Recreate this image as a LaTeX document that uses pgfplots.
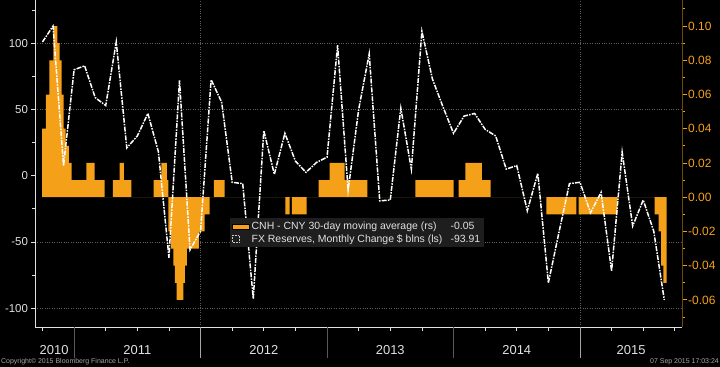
\documentclass[border=0pt]{standalone}
\usepackage{pgfplots}
\pgfplotsset{compat=1.18}
\usepackage{fontspec}
\setmainfont{Liberation Sans}
\definecolor{cnh}{RGB}{245,160,25}
\definecolor{legbg}{RGB}{30,30,30}
\definecolor{gridc}{RGB}{95,95,95}
\definecolor{txt}{RGB}{225,225,225}

\pgfplotsset{
  base/.style={at={(35bp,40bp)}, anchor=south west, scale only axis,
    width=647bp, height=327bp, xmin=8.29, xmax=69.68,
    /pgf/number format/assume math mode=true},
}

\begin{document}
\begin{tikzpicture}
\fill[black] (0,0) rectangle (720bp,367bp);
\path[use as bounding box] (0,0) rectangle (720bp,367bp);

% background grid (left scale)
\begin{axis}[base, ymin=-114.3, ymax=132.7,
  xtick={24,60}, ytick={-100,-50,50,100},
  xticklabels={}, yticklabels={},
  grid=major, grid style={gridc, dotted, line width=0.7bp},
  axis line style={draw=none}, major tick length=0pt, minor tick length=0pt]
\end{axis}

% CNH - CNY bars (right scale)
\begin{axis}[base, ymin=-0.0758, ymax=0.1152,
  axis y line*=right, axis x line*=bottom,
  x axis line style={draw=none},
  y axis line style={draw=cnh!45!black, line width=0.7bp},
  ytick={-0.06,-0.04,-0.02,0,0.02,0.04,0.06,0.08,0.10},
  yticklabels={-0.06,-0.04,-0.02,0.00,0.02,0.04,0.06,0.08,0.10},
  minor ytick={-0.07,-0.05,-0.03,-0.01,0.01,0.03,0.05,0.07,0.09,0.11},
  ytick style={cnh, line width=0.9bp},
  tick align=outside, major tick length=5bp, minor tick length=3bp,
  yticklabel style={text=cnh, font=\fontsize{12}{12}\selectfont, inner sep=1bp},
  xtick={10.1,18,30,42,54,64.85},
  xticklabels={2010,2011,2012,2013,2014,2015},
  xtick style={draw=none},
  xticklabel style={text=txt, font=\fontsize{13}{13}\selectfont, anchor=north, yshift=-10bp}]
\addplot[ybar interval, fill=cnh, draw=none] coordinates {
(8.955,0.04) (9.33,0.06) (9.65,0.08) (10.03,0.10) (10.41,0.09) (10.62,0.08)
(10.82,0.06) (11.0,0.04) (11.2,0.03) (11.5,0.02) (11.77,0.01) (13.16,0.02)
(13.95,0.01) (14.90,0) (15.69,0.01) (16.33,0.02) (16.73,0.01) (17.43,0)
(19.55,0.01) (20.27,0.02) (20.81,0.01) (20.94,-0.02) (21.19,-0.03) (21.41,-0.04)
(21.57,-0.05) (21.73,-0.06) (22.36,-0.05) (22.52,-0.04) (22.71,-0.03) (23.85,-0.02)
(24.39,-0.01) (24.87,0) (25.27,0.01) (26.29,0) (32.04,-0.01) (32.46,0)
(32.67,-0.01) (34.07,0) (35.21,0.01) (36.25,0.02) (37.67,0.01) (39.82,0)
(44.37,0.01) (48.02,0) (48.49,0.01) (49.12,0.02) (50.70,0.01) (51.53,0)
(56.80,-0.01) (59.65,0) (59.87,-0.01) (63.54,0) (67.09,-0.01) (67.47,-0.02)
(67.69,-0.04) (67.92,-0.05) (68.22,0)
};
\end{axis}

% FX reserves line (left scale)
\begin{axis}[base, ymin=-114.3, ymax=132.7, clip=false,
  axis y line*=left, axis x line*=bottom,
  axis line style={txt, line width=0.8bp},
  ytick={-100,-50,0,50,100},
  yticklabels={-100,-50,0,50,100},
  minor ytick={-75,-25,25,75,125},
  xtick={9,15,18,21,27,30,33,39,42,45,51,54,57,63,66,69},
  xticklabels={},
  tick align=outside, major tick length=3.5bp, minor tick length=2.5bp,
  tick style={txt, line width=0.7bp},
  yticklabel style={text=txt, font=\fontsize{11.5}{11.5}\selectfont},
  legend style={at={(0.3014,0.3333)}, anchor=north west, fill=legbg, draw=none,
    text=txt, font=\fontsize{10.5}{12}\selectfont, inner sep=2bp, row sep=-1bp,
    cells={anchor=west}},
  legend cell align=left]
\addlegendimage{area legend, fill=cnh, draw=none}
\addlegendentry{\makebox[199bp][l]{CNH - CNY 30-day moving average (rs)}-0.05\hspace{5bp}}
\addplot[white, line width=1.5bp, dash pattern=on 5bp off 1.2bp on 1.5bp off 1.2bp,
  legend image code/.code={\draw[white!80!black, densely dotted, line width=0.5bp] (0bp,-3bp) rectangle (6.5bp,3.5bp);}]
coordinates {
(9,101) (10,113) (11,7.6) (12,80) (13,83) (14,59) (15,53) (16,101) (17,21) (18,30)
(19,47) (20,18) (21,-62) (22,72) (23,-56) (24,-42) (25,72.5) (26,55.5) (27,-5) (28,-6)
(29,-93) (30,34) (31,1) (32,32) (33,11) (34,2.5) (35,10) (36,14) (37,98.5) (38,-11)
(39,50) (40,92) (41,-19) (42,-18.4) (43,51) (44,5) (45,109) (46,73) (47,52) (48,32)
(49,45) (50,47) (51,35) (52,30) (53,5) (54,7.6) (55,-26.5) (56,1.8) (57,-81) (58,-43)
(59,-6) (60,-5) (61,-28) (62,-12.6) (63,-72) (64,17.7) (65,-38) (66,-18.4) (67,-42) (68,-93.91)
};
\addlegendentry{\makebox[199bp][l]{FX Reserves, Monthly Change \$ blns (ls)}-93.91}
% year separators below the axis
\draw[white!35!black, line width=0.7bp] (axis cs:12,-114.3) -- ([yshift=-31bp]axis cs:12,-114.3);
\draw[white!35!black, line width=0.7bp] (axis cs:36,-114.3) -- ([yshift=-31bp]axis cs:36,-114.3);
\draw[white!35!black, line width=0.7bp] (axis cs:48,-114.3) -- ([yshift=-31bp]axis cs:48,-114.3);
\draw[white!65!black, line width=0.8bp] (axis cs:24,-114.3) -- ([yshift=-31bp]axis cs:24,-114.3);
\draw[white!65!black, line width=0.8bp] (axis cs:60,-114.3) -- ([yshift=-31bp]axis cs:60,-114.3);
\end{axis}

\node[anchor=south west, inner sep=0pt, text=white!65!black, font=\fontsize{7}{7}\selectfont] at (1bp,1.5bp) {Copyright© 2015 Bloomberg Finance L.P.};
\node[anchor=south east, inner sep=0pt, text=white!65!black, font=\fontsize{7}{7}\selectfont] at (719bp,1.5bp) {07 Sep 2015 17:03:24};
\end{tikzpicture}
\end{document}
